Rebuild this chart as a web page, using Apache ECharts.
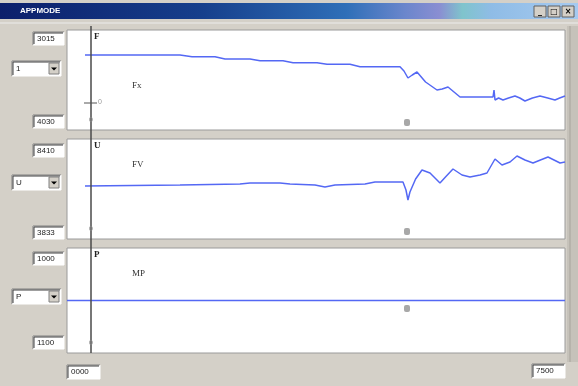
<!DOCTYPE html>
<html>
<head>
<meta charset="utf-8">
<script src="https://cdn.jsdelivr.net/npm/echarts@6/dist/echarts.min.js"></script>
<style>
  html, body { margin: 0; padding: 0; background: #d4d0c8; }
  #c { width: 578px; height: 386px; }
</style>
</head>
<body>
<div id="c"></div>
<script>
// Time base shared by the three channels
const timeMin = 0;
const timeMax = 7500;
const timeLabels = ['0000', '7500'];

// Channel 1 – Fx
const fxTime  = [271, 1702, 1883, 2229, 2380, 2756, 2907, 3253, 3404, 3765, 3916, 4262, 4413, 5015, 5075, 5135, 5200, 5271, 5400, 5572, 5650, 5738, 5919, 6370, 6416, 6431, 6446, 6500, 6566, 6650, 6747, 6820, 6897, 7010, 7123, 7240, 7349, 7420, 7500];
const fxValue = [75,  75,   73.3, 73.3, 71,   71,   69.3, 69.3, 67.3, 67.3, 65.7, 65.7, 63.3, 63.3, 59,   52,   55,   58,   48,   40,   41,   43,   33,   33,   33,   40,   30,   32,   30,   32,   34,   32,   29,   32,   34,   32,   30,   32,   34];

// Channel 2 – FV
const fvTime  = [271, 1702, 2605, 2756, 3208, 3358, 3735, 3885, 4036, 4488, 4638, 5060, 5105, 5135, 5165, 5250, 5346, 5467, 5617, 5700, 5813, 5949, 6069, 6220, 6325, 6446, 6551, 6672, 6777, 6897, 7018, 7130, 7244, 7425, 7500];
const fvValue = [53,  54,   55,   56,   56,   55,   54,   52,   54,   55,   57,   57,   49,   39,   47,   60,   69,   66,   56,   62,   70,   64,   62,   64,   66,   80,   74,   77,   83,   79,   76,   79,   82,   76,   77];

// Channel 3 – MP
const mpTime  = [0, 7500];
const mpValue = [0, 0];

// Channel texts
const channelNames   = ['Fx', 'FV', 'MP'];
const channelLetters = ['F', 'U', 'P'];
const rangeTop       = ['3015', '8410', '1000'];
const rangeBottom    = ['4030', '3833', '1100'];
const selectorText   = ['1', 'U', 'P'];
const windowTitle    = 'APPMODE';

const zip = (a, b) => a.map((t, i) => [t, b[i]]);

const panels = [
  { top: 30,  height: 100, min: 0,     max: 100,  data: zip(fxTime, fxValue) },
  { top: 139, height: 100, min: 0,     max: 100,  data: zip(fvTime, fvValue) },
  { top: 248, height: 105, min: -1000, max: 1000, data: zip(mpTime, mpValue) }
];

const PANEL_LEFT = 67, PANEL_WIDTH = 498;
const LINE_COLOR = '#5468f4';

// sunken text field
function field(x, y, w, h, text) {
  return {
    type: 'group', x: x, y: y,
    children: [
      { type: 'rect', shape: { x: 0, y: 0, width: w, height: h }, style: { fill: '#ffffff', stroke: null } },
      { type: 'polyline', shape: { points: [[0, h], [0, 0], [w, 0]] }, style: { stroke: '#808080', lineWidth: 1, fill: null } },
      { type: 'polyline', shape: { points: [[1, h - 1], [1, 1], [w - 1, 1]] }, style: { stroke: '#404040', lineWidth: 1, fill: null } },
      { type: 'polyline', shape: { points: [[0, h], [w, h], [w, 0]] }, style: { stroke: '#ffffff', lineWidth: 1, fill: null } },
      { type: 'text', x: 4, y: h / 2, style: { text: text, fill: '#222', font: '8px "Liberation Sans"', textVerticalAlign: 'middle' } }
    ]
  };
}

// drop-down selector
function selector(x, y, w, h, text) {
  const g = field(x, y, w, h, text);
  g.children.push(
    { type: 'rect', shape: { x: w - 12, y: 2, width: 10, height: h - 4 }, style: { fill: '#d4d0c8', stroke: '#808080', lineWidth: 1 } },
    { type: 'polygon', shape: { points: [[w - 10, h / 2 - 1], [w - 4, h / 2 - 1], [w - 7, h / 2 + 2]] }, style: { fill: '#000' } }
  );
  return g;
}

const graphics = [];

// title bar
graphics.push({
  type: 'rect', shape: { x: 0, y: 3, width: 578, height: 16 },
  style: {
    fill: new echarts.graphic.LinearGradient(0, 0, 1, 0, [
      { offset: 0, color: '#0c1f6b' },
      { offset: 0.35, color: '#163f8c' },
      { offset: 0.6, color: '#2f6fb8' },
      { offset: 0.7, color: '#6a86cc' },
      { offset: 0.76, color: '#8a8ed2' },
      { offset: 0.8, color: '#7fc4cc' },
      { offset: 0.85, color: '#8fbce6' },
      { offset: 1, color: '#a6caf0' }
    ])
  }
});
graphics.push({ type: 'text', x: 20, y: 11, style: { text: windowTitle, fill: '#ffffff', font: 'bold 8px "Liberation Sans"', textVerticalAlign: 'middle' } });
['_', '□', '×'].forEach((s, i) => {
  graphics.push({ type: 'rect', shape: { x: 534 + i * 14, y: 6, width: 12, height: 11 }, style: { fill: '#d4d0c8', stroke: '#606060', lineWidth: 1 } });
  graphics.push({ type: 'text', x: 540 + i * 14, y: 11.5, style: { text: s, fill: '#000', font: 'bold 8px "DejaVu Sans"', textAlign: 'center', textVerticalAlign: 'middle' } });
});
graphics.push({ type: 'line', shape: { x1: 0, y1: 23, x2: 578, y2: 23 }, style: { stroke: '#ececec', lineWidth: 1 } });

// right strip
graphics.push({ type: 'rect', shape: { x: 567, y: 26, width: 11, height: 336 }, style: { fill: '#c6c2ba' } });
graphics.push({ type: 'line', shape: { x1: 570, y1: 26, x2: 570, y2: 362 }, style: { stroke: '#a8a49c', lineWidth: 1 } });

// left column fields
const fieldTops    = [32, 144, 252];
const fieldBottoms = [115, 226, 336];
const selectorTops = [61, 175, 289];
for (let i = 0; i < 3; i++) {
  graphics.push(field(33, fieldTops[i], 31, 13, rangeTop[i]));
  graphics.push(field(33, fieldBottoms[i], 31, 13, rangeBottom[i]));
  graphics.push(selector(12, selectorTops[i], 49, 15, selectorText[i]));
}

// time fields
graphics.push(field(67, 365, 33, 14, timeLabels[0]));
graphics.push(field(532, 364, 33, 14, timeLabels[1]));

// cursor line shared by all channels
graphics.push({ type: 'line', z: 10, shape: { x1: 91, y1: 26, x2: 91, y2: 353 }, style: { stroke: '#4a4a4a', lineWidth: 1.5 } });

// channel captions and cursor marks
for (let i = 0; i < 3; i++) {
  const p = panels[i];
  graphics.push({ type: 'text', z: 11, x: 94, y: p.top + 2, style: { text: channelLetters[i], fill: '#222', font: 'bold 9px "Liberation Serif"' } });
  graphics.push({ type: 'text', z: 11, x: 132, y: p.top + (i === 0 ? 51 : 21), style: { text: channelNames[i], fill: '#333', font: '9px "Liberation Serif"' } });
  graphics.push({ type: 'text', z: 11, x: 89, y: p.top + p.height - 13, style: { text: '0', fill: '#8a8a8a', font: '7px "Liberation Sans"' } });
  graphics.push({ type: 'rect', z: 11, shape: { x: 404, y: p.top + p.height - (i === 2 ? 48 : 11), width: 6, height: 7, r: 2 }, style: { fill: '#a8a8a8' } });
}
graphics.push({ type: 'line', z: 11, shape: { x1: 84, y1: 103, x2: 97, y2: 103 }, style: { stroke: '#555', lineWidth: 1 } });
graphics.push({ type: 'text', z: 11, x: 98, y: 99, style: { text: '0', fill: '#9a9a9a', font: '7px "Liberation Sans"' } });

const option = {
  animation: false,
  backgroundColor: '#d4d0c8',
  grid: panels.map(p => ({
    left: PANEL_LEFT, width: PANEL_WIDTH, top: p.top, height: p.height,
    show: true, backgroundColor: '#ffffff', borderColor: '#9a9a9a', borderWidth: 1
  })),
  xAxis: panels.map((p, i) => ({
    type: 'value', gridIndex: i, min: timeMin, max: timeMax, show: false
  })),
  yAxis: panels.map((p, i) => ({
    type: 'value', gridIndex: i, min: p.min, max: p.max, show: false
  })),
  series: panels.map((p, i) => ({
    type: 'line', xAxisIndex: i, yAxisIndex: i, data: p.data,
    symbol: 'none', smooth: false,
    lineStyle: { color: LINE_COLOR, width: 1.5 }
  })),
  graphic: { elements: graphics }
};

const chart = echarts.init(document.getElementById('c'), null, { renderer: 'canvas' });
chart.setOption(option);
</script>
</body>
</html>
